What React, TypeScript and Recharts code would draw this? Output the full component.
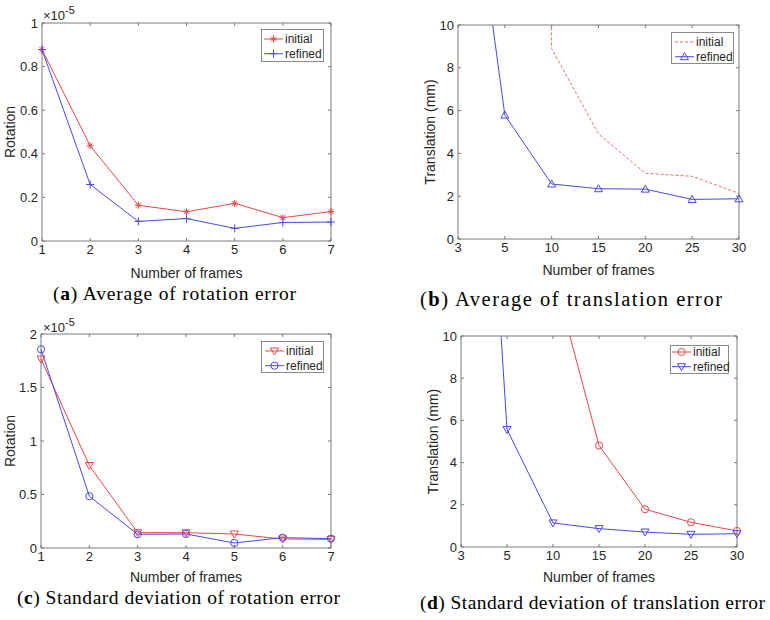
import { LineChart, Line, XAxis, YAxis } from 'recharts'

// frames on the x axis
const framesRot = [1, 2, 3, 4, 5, 6, 7]
const framesTrans = [3, 5, 10, 15, 20, 25, 30]

// rotation error, in units of 1e-5
const avgRotInitial = [0.878, 0.437, 0.164, 0.134, 0.173, 0.107, 0.135]
const avgRotRefined = [0.878, 0.259, 0.09, 0.103, 0.058, 0.085, 0.087]
const stdRotInitial = [1.766, 0.771, 0.143, 0.143, 0.131, 0.084, 0.081]
const stdRotRefined = [1.857, 0.484, 0.128, 0.131, 0.047, 0.097, 0.087]

// translation error (mm); first points run off the top of the plot
const avgTransInitial = [150, 100, 8.9, 4.91, 3.07, 2.93, 2.13]
const avgTransRefined = [22, 5.79, 2.57, 2.35, 2.33, 1.85, 1.88]
const stdTransInitial = [60, 30, 13, 4.81, 1.79, 1.17, 0.76]
const stdTransRefined = [40, 5.57, 1.14, 0.87, 0.71, 0.6, 0.63]

const avgRotTicks = [0, 0.2, 0.4, 0.6, 0.8, 1]
const stdRotTicks = [0, 0.5, 1, 1.5, 2]
const transTicks = [0, 2, 4, 6, 8, 10]

const RED = '#e84848'
const BLUE = '#4848e8'
const AXIS = '#7a7a7a'
const TEXT = '#262626'
const SANS = '"Liberation Sans", Arial, sans-serif'

type MarkerKind = 'star' | 'plus' | 'triDown' | 'triUp' | 'circle' | 'none'

interface SeriesSpec {
  key: 'initial' | 'refined'
  color: string
  marker: MarkerKind
  dash?: string
}

function Marker({ kind, x, y, color }: { kind: MarkerKind; x: number; y: number; color: string }) {
  if (kind === 'none' || x == null || y == null) return <g />
  let d = ''
  if (kind === 'star') {
    d = `M${x - 3.5},${y}h7M${x},${y - 3.5}v7M${x - 2.5},${y - 2.5}l5,5M${x - 2.5},${y + 2.5}l5,-5`
  } else if (kind === 'plus') {
    d = `M${x - 4},${y}h8M${x},${y - 4}v8`
  } else if (kind === 'triDown') {
    d = `M${x - 4},${y - 3}L${x + 4},${y - 3}L${x},${y + 4}Z`
  } else if (kind === 'triUp') {
    d = `M${x - 4},${y + 3}L${x + 4},${y + 3}L${x},${y - 4}Z`
  } else if (kind === 'circle') {
    return <circle cx={x} cy={y} r={3.6} fill="none" stroke={color} strokeWidth={1} />
  }
  return <path d={d} fill="none" stroke={color} strokeWidth={1} />
}

// MATLAB-style boxed legend, drawn in page coordinates
function LegendBox({ series, x, y, width, height, rowTop, padLeft }: {
  series: SeriesSpec[]; x: number; y: number; width: number; height: number; rowTop: number; padLeft: number
}) {
  return (
    <g transform={`translate(${x} ${y})`}>
      <rect x={0.5} y={0.5} width={width - 1} height={height - 1} fill="#fff" stroke="#8a8a8a" strokeWidth={1} />
      {series.map((s, i) => {
        const cy = rowTop + i * 14.7
        return (
          <g key={s.key}>
            <line x1={padLeft} x2={padLeft + 19} y1={cy} y2={cy} stroke={s.color} strokeDasharray={s.dash} />
            <Marker kind={s.marker} x={padLeft + 9.5} y={cy} color={s.color} />
            <text x={padLeft + 21} y={cy} dominantBaseline="central" fontSize={12} fontFamily={SANS} fill={TEXT}>
              {s.key}
            </text>
          </g>
        )
      })}
    </g>
  )
}

const yLabel = (text: string, cx: number) => (props: any) => {
  const vb = props.viewBox
  const cy = vb.y + vb.height / 2
  return (
    <text
      x={cx}
      y={cy}
      transform={`rotate(-90 ${cx} ${cy})`}
      textAnchor="middle"
      dominantBaseline="central"
      fill={TEXT}
      fontSize={14}
      fontFamily={SANS}
    >
      {text}
    </text>
  )
}

interface PanelProps {
  left: number
  top: number
  frames: number[]
  initial: number[]
  refined: number[]
  ticks: number[]
  domain: [number, number]
  margin: { top: number; right: number; bottom: number; left: number }
  yWidth: number
  yTitle: string
  yTitleX: number
  xTitleOffset: number
  series: SeriesSpec[]
}

function Panel(p: PanelProps) {
  const data = p.frames.map((f, i) => ({ frame: String(f), initial: p.initial[i], refined: p.refined[i] }))
  const tickStyle = { fill: TEXT, fontSize: 13, fontFamily: SANS }
  // the top and right axes take 1px each, so the margins give that back
  const margin = { ...p.margin, top: p.margin.top - 1, right: p.margin.right - 1 }
  return (
    <div style={{ position: 'absolute', left: p.left, top: p.top }}>
      <LineChart width={385} height={310} data={data} margin={margin}>
        <XAxis
          dataKey="frame"
          type="category"
          interval={0}
          height={40}
          stroke={AXIS}
          tickSize={-3}
          tickMargin={7}
          tick={tickStyle}
          label={{ value: 'Number of frames', position: 'insideBottom', offset: p.xTitleOffset, fill: TEXT, fontSize: 14, fontFamily: SANS }}
        />
        <XAxis
          xAxisId="top"
          orientation="top"
          dataKey="frame"
          type="category"
          interval={0}
          height={1}
          stroke={AXIS}
          tickSize={-3}
          tickFormatter={() => ''}
        />
        <YAxis
          type="number"
          domain={p.domain}
          ticks={p.ticks}
          interval={0}
          allowDataOverflow
          width={p.yWidth}
          stroke={AXIS}
          tickSize={-3}
          tickMargin={7}
          tick={tickStyle}
          tickFormatter={(v: number) => String(v)}
          label={yLabel(p.yTitle, p.yTitleX)}
        />
        <YAxis
          yAxisId="right"
          orientation="right"
          type="number"
          domain={p.domain}
          ticks={p.ticks}
          interval={0}
          allowDataOverflow
          width={1}
          stroke={AXIS}
          tickSize={-3}
          tickFormatter={() => ''}
        />
        {p.series.map((s) => (
          <Line
            key={s.key}
            dataKey={s.key}
            stroke={s.color}
            strokeWidth={1}
            strokeDasharray={s.dash}
            type="linear"
            isAnimationActive={false}
            dot={
              s.marker === 'none'
                ? false
                : (d: any) => <Marker key={`${s.key}-${d.index}`} kind={s.marker} x={d.cx} y={d.cy} color={s.color} />
            }
            activeDot={false}
          />
        ))}
      </LineChart>
    </div>
  )
}

const seriesA: SeriesSpec[] = [
  { key: 'initial', color: RED, marker: 'star' },
  { key: 'refined', color: BLUE, marker: 'plus' },
]
const seriesB: SeriesSpec[] = [
  { key: 'initial', color: '#f06a6a', marker: 'none', dash: '3 2' },
  { key: 'refined', color: BLUE, marker: 'triUp' },
]
const seriesC: SeriesSpec[] = [
  { key: 'initial', color: RED, marker: 'triDown' },
  { key: 'refined', color: BLUE, marker: 'circle' },
]
const seriesD: SeriesSpec[] = [
  { key: 'initial', color: RED, marker: 'circle' },
  { key: 'refined', color: BLUE, marker: 'triDown' },
]

export default function App() {
  return (
    <div style={{ position: 'absolute', left: 0, top: 0, width: 770, height: 620, background: '#fff' }}>
      <Panel
        left={0}
        top={0}
        frames={framesRot}
        initial={avgRotInitial}
        refined={avgRotRefined}
        ticks={avgRotTicks}
        domain={[0, 1]}
        margin={{ top: 23, right: 54, bottom: 29, left: 0 }}
        yWidth={42}
        yTitle="Rotation"
        yTitleX={10}
        xTitleOffset={3}
        series={seriesA}
      />
      <Panel
        left={385}
        top={0}
        frames={framesTrans}
        initial={avgTransInitial}
        refined={avgTransRefined}
        ticks={transTicks}
        domain={[0, 10]}
        margin={{ top: 25, right: 31, bottom: 31, left: 28 }}
        yWidth={45}
        yTitle="Translation (mm)"
        yTitleX={45}
        xTitleOffset={4}
        series={seriesB}
      />
      <Panel
        left={0}
        top={310}
        frames={framesRot}
        initial={stdRotInitial}
        refined={stdRotRefined}
        ticks={stdRotTicks}
        domain={[0, 2]}
        margin={{ top: 24, right: 54, bottom: 32, left: 0 }}
        yWidth={41}
        yTitle="Rotation"
        yTitleX={10}
        xTitleOffset={6}
        series={seriesC}
      />
      <Panel
        left={385}
        top={310}
        frames={framesTrans}
        initial={stdTransInitial}
        refined={stdTransRefined}
        ticks={transTicks}
        domain={[0, 10]}
        margin={{ top: 26, right: 33, bottom: 33, left: 31 }}
        yWidth={45}
        yTitle="Translation (mm)"
        yTitleX={48}
        xTitleOffset={5}
        series={seriesD}
      />
      <svg
        width={770}
        height={620}
        style={{ position: 'absolute', left: 0, top: 0, pointerEvents: 'none' }}
      >
        <LegendBox series={seriesA} x={261} y={29} width={63} height={33} rowTop={10} padLeft={3} />
        <LegendBox series={seriesB} x={671} y={32} width={63} height={32} rowTop={10} padLeft={4} />
        <LegendBox series={seriesC} x={261} y={341} width={63} height={32} rowTop={10} padLeft={4} />
        <LegendBox series={seriesD} x={670} y={345} width={59} height={29} rowTop={7} padLeft={2} />
        <g fill={TEXT} fontFamily={SANS}>
          <text x={43} y={20} fontSize={13}>
            ×10<tspan dy={-6} fontSize={11}>-5</tspan>
          </text>
          <text x={43} y={332} fontSize={13}>
            ×10<tspan dy={-6} fontSize={11}>-5</tspan>
          </text>
        </g>
        <g fill="#000" fontFamily='"Liberation Serif", "Times New Roman", serif'>
          <text x={53} y={300} fontSize={19.5} textLength={243} lengthAdjust="spacing">
            (<tspan fontWeight="bold">a</tspan>) Average of rotation error
          </text>
          <text x={420} y={306} fontSize={20.5} textLength={302} lengthAdjust="spacing">
            (<tspan fontWeight="bold">b</tspan>) Average of translation error
          </text>
          <text x={17} y={604} fontSize={19.5} textLength={323} lengthAdjust="spacing">
            (<tspan fontWeight="bold">c</tspan>) Standard deviation of rotation error
          </text>
          <text x={420} y={609} fontSize={19.5} textLength={345} lengthAdjust="spacing">
            (<tspan fontWeight="bold">d</tspan>) Standard deviation of translation error
          </text>
        </g>
      </svg>
    </div>
  )
}
